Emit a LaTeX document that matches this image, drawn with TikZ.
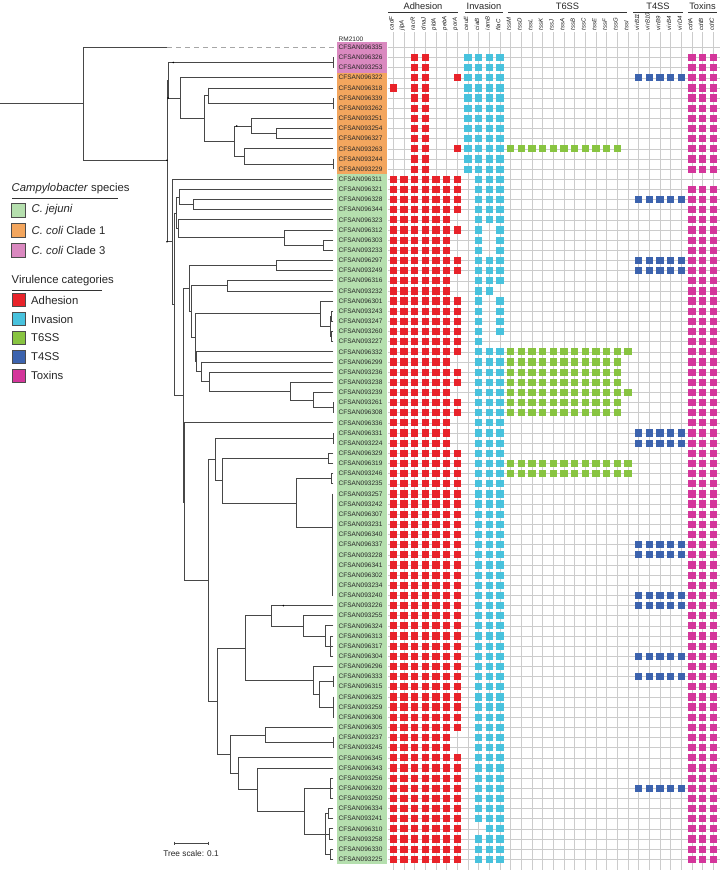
\documentclass[tikz,border=0pt]{standalone}
\usepackage{fontspec}
\setmainfont{Liberation Sans}
\definecolor{cA}{HTML}{E8232A}
\definecolor{cI}{HTML}{48C2DD}
\definecolor{cS}{HTML}{88C441}
\definecolor{cF}{HTML}{3C63AE}
\definecolor{cX}{HTML}{D4369B}
\definecolor{sJ}{HTML}{B5DFAE}
\definecolor{sO}{HTML}{F3A65E}
\definecolor{sP}{HTML}{DA89C0}
\newcommand\vsq[3]{\fill[#1] ({393.3+#3*10.67-3.6},{47.3+(#2-1)*10.15-3.6}) rectangle ++(7.2,7.2);}
\newcommand\adh[2]{\foreach \k in {#2}{\vsq{cA}{#1}{\k}}}
\newcommand\inv[2]{\foreach \k in {#2}{\vsq{cI}{#1}{\k}}}
\newcommand\tsix[2]{\foreach \k in {11,...,#2}{\vsq{cS}{#1}{\k}}}
\newcommand\tfour[1]{\foreach \k in {23,...,27}{\vsq{cF}{#1}{\k}}}
\newcommand\tox[1]{\foreach \k in {28,29,30}{\vsq{cX}{#1}{\k}}}
\newcommand\stdrow[1]{\adh{#1}{0,...,6}\inv{#1}{8,9,10}\tox{#1}}
\newcommand\sixrow[1]{\adh{#1}{0,...,5}\inv{#1}{8,9,10}\tox{#1}}
\newcommand\colirow[1]{\adh{#1}{2,3}\inv{#1}{7,...,10}\tox{#1}}
\newcommand\hb[3]{\draw[tr] (#1,#3) -- (#2,#3);}
\newcommand\vb[3]{\draw[tr] (#1,#2) -- (#1,#3);}
\newcommand\lf[2]{\draw[tr] (#1,{47.3+(#2-1)*10.15}) -- (333,{47.3+(#2-1)*10.15});}
\newcommand\ndot[2]{\fill[black] (#1,#2) circle (0.9);}
\begin{document}
\begin{tikzpicture}[x=1pt,y=-1pt,
  tr/.style={draw=black!72,line width=0.75pt,line cap=rect},
  grd/.style={draw=black!20,line width=0.5pt},
  lbl/.style={font=\fontsize{6.5}{7}\selectfont,inner sep=0pt,anchor=west,text=black!85},
  gene/.style={font=\fontsize{6}{7}\selectfont\itshape,inner sep=0pt,anchor=west,rotate=90,text=black!90},
  cat/.style={font=\fontsize{9.3}{10}\selectfont,inner sep=0pt,text=black!85},
  catline/.style={draw=black!80,line width=0.6pt},
  leg/.style={font=\fontsize{11.3}{12}\selectfont,inner sep=0pt,anchor=west,text=black!85},
  sw/.style={draw=black!70,line width=0.6pt}]
\useasboundingbox (0,0) rectangle (724,870);
\fill[white] (0,0) rectangle (724,870);
% ---------- label backgrounds
\fill[sP] (337,42.2) rectangle (387,72.7);
\fill[sO] (337,72.7) rectangle (387,174.2);
\fill[sJ] (337,174.2) rectangle (387,864.4);
% ---------- grid
\foreach \k in {0,...,30} \draw[grd] ({393.3+\k*10.67},32) -- ({393.3+\k*10.67},870);
\foreach \r in {1,...,81} \draw[grd] (388,{47.3+(\r-1)*10.15}) -- (720,{47.3+(\r-1)*10.15});
% ---------- header
\node[cat] (hA) at (423,6) {Adhesion};
\node[cat] (hI) at (484,6) {Invasion};
\node[cat] (hS) at (567.5,6) {T6SS};
\node[cat] (hF) at (658,6) {T4SS};
\node[cat] (hX) at (702.5,6) {Toxins};
\draw[catline] (388,12.7) -- (458,12.7);
\draw[catline] (465,12.7) -- (503,12.7);
\draw[catline] (508,12.7) -- (627,12.7);
\draw[catline] (633,12.7) -- (683,12.7);
\draw[catline] (688,12.7) -- (717,12.7);
\foreach \g [count=\i from 0] in {cadF,jlpA,racR,dnaJ,pldA,pebA,porA,ceuE,ciaB,iamB,flaC,tssM,tssD,tssL,tssK,tssJ,tssA,tssB,tssC,tssE,tssF,tssG,tssI,virB11,virB10,virB9,virB4,virD4,cdtA,cdtB,cdtC}
  \node[gene] (G\i) at ({393.3+\i*10.67-1.8},30.5) {\g};
% ---------- row labels
\node[lbl] (RM) at (338.5,39.5) {RM2100};
\foreach \lab [count=\i] in {CFSAN096335,CFSAN096326,CFSAN093253,CFSAN096322,CFSAN096318,CFSAN096339,CFSAN093262,CFSAN093251,CFSAN093254,CFSAN096327,CFSAN093263,CFSAN093244,CFSAN093229,CFSAN096311,CFSAN096321,CFSAN096328,CFSAN096344,CFSAN096323,CFSAN096312,CFSAN096303,CFSAN093233,CFSAN096297,CFSAN093249,CFSAN096316,CFSAN093232,CFSAN096301,CFSAN093243,CFSAN093247,CFSAN093260,CFSAN093227,CFSAN096332,CFSAN096299,CFSAN093236,CFSAN093238,CFSAN093239,CFSAN093261,CFSAN096308,CFSAN096336,CFSAN096331,CFSAN093224,CFSAN096329,CFSAN096319,CFSAN093246,CFSAN093235,CFSAN093257,CFSAN093242,CFSAN096307,CFSAN093231,CFSAN096340,CFSAN096337,CFSAN093228,CFSAN096341,CFSAN096302,CFSAN093234,CFSAN093240,CFSAN093226,CFSAN093255,CFSAN096324,CFSAN096313,CFSAN096317,CFSAN096304,CFSAN096296,CFSAN096333,CFSAN096315,CFSAN096325,CFSAN093259,CFSAN096306,CFSAN096305,CFSAN093237,CFSAN093245,CFSAN096345,CFSAN096343,CFSAN093256,CFSAN096320,CFSAN093250,CFSAN096334,CFSAN093241,CFSAN096310,CFSAN093258,CFSAN096330,CFSAN093225}
  \node[lbl] (L\i) at (338.5,{47.3+(\i-1)*10.15}) {\lab};
% ---------- presence squares
\colirow{2}\colirow{3}
\adh{4}{2,3,6}\inv{4}{7,...,10}\tfour{4}\tox{4}
\adh{5}{0,2,3}\inv{5}{7,...,10}\tox{5}
\colirow{6}\colirow{7}\colirow{8}\colirow{9}\colirow{10}
\adh{11}{2,3,6}\inv{11}{7,...,10}\tsix{11}{21}\tox{11}
\colirow{12}\colirow{13}
\adh{14}{0,...,6}\inv{14}{8,9,10}
\stdrow{15}
\stdrow{16}\tfour{16}
\stdrow{17}
\sixrow{18}
\adh{19}{0,...,6}\inv{19}{8,10}\tox{19}
\adh{20}{0,...,5}\inv{20}{8,10}\tox{20}
\adh{21}{0,...,5}\inv{21}{8,10}\tox{21}
\stdrow{22}\tfour{22}
\stdrow{23}\tfour{23}
\sixrow{24}
\adh{25}{0,...,5}\inv{25}{8,9}\tox{25}
\adh{26}{0,...,6}\inv{26}{8,10}\tox{26}
\adh{27}{0,...,6}\inv{27}{8,10}\tox{27}
\adh{28}{0,...,6}\inv{28}{8,10}\tox{28}
\adh{29}{0,...,6}\inv{29}{8,10}\tox{29}
\adh{30}{0,...,6}\inv{30}{8}\tox{30}
\stdrow{31}\tsix{31}{22}
\sixrow{32}\tsix{32}{21}
\stdrow{33}\tsix{33}{21}
\stdrow{34}\tsix{34}{21}
\sixrow{35}\tsix{35}{22}
\stdrow{36}\tsix{36}{21}
\stdrow{37}\tsix{37}{21}
\sixrow{38}
\sixrow{39}\tfour{39}
\sixrow{40}\tfour{40}
\stdrow{41}
\stdrow{42}\tsix{42}{22}
\stdrow{43}\tsix{43}{22}
\foreach \r in {44,...,68} {\stdrow{\r}}
\tfour{50}\tfour{51}\tfour{55}\tfour{56}\tfour{61}\tfour{63}
\sixrow{69}\sixrow{70}
\foreach \r in {71,...,77} {\stdrow{\r}}
\tfour{74}
\adh{78}{0,...,6}\inv{78}{9,10}\tox{78}
\stdrow{79}\stdrow{80}\stdrow{81}
% ---------- tree
\draw[tr] (0,103.75) -- (83,103.75);
\vb{83}{47.3}{160.2}
\hb{83}{167}{47.3}
\draw[draw=black!35,line width=0.75pt,dash pattern=on 5pt off 4pt] (167,47.3) -- (336,47.3);
\hb{83}{167}{160.2}
\vb{167}{80.3}{241.7}
\vb{168}{62.5}{98.1}
\hb{168}{333}{62.5}\vb{333}{57.45}{67.6}
\hb{168}{180}{98.1}\vb{180}{77.75}{118.4}\lf{180}{4}
\hb{180}{204.3}{118.4}\vb{204.3}{95.5}{141.2}
\hb{204.3}{208.3}{95.5}\vb{208.3}{87.9}{103.1}\lf{208.3}{5}
\hb{208.3}{333}{103.1}\vb{333}{98.05}{108.2}
\hb{204.3}{234.3}{141.2}\vb{234.3}{126}{156.4}
\hb{234.3}{251}{126}\vb{251}{118.35}{133.6}\lf{251}{8}
\hb{251}{276.7}{133.6}\vb{276.7}{128.5}{138.65}\lf{276.7}{9}\lf{276.7}{10}
\hb{234.3}{244.3}{156.4}\vb{244.3}{148.8}{164}\lf{244.3}{11}
\hb{244.3}{333}{164}\vb{333}{158.95}{169.1}
% jejuni
\hb{167}{172.7}{241.7}\vb{172.7}{179.25}{304.1}\lf{172.7}{14}
\hb{172.7}{174.5}{304.1}\vb{174.5}{212.9}{395.3}
\hb{174.5}{176}{212.9}\vb{176}{197}{228.7}
\hb{176}{179.3}{197}\vb{179.3}{189.4}{204.6}\lf{179.3}{15}
\hb{179.3}{193.3}{204.6}\vb{193.3}{199.55}{209.7}\lf{193.3}{16}\lf{193.3}{17}
\hb{176}{178.3}{228.7}\vb{178.3}{219.85}{237.6}\lf{178.3}{18}
\hb{178.3}{284.3}{237.6}\vb{284.3}{230}{245.2}\lf{284.3}{19}
\hb{284.3}{323.3}{245.2}\vb{323.3}{240.15}{250.3}\lf{323.3}{20}\lf{323.3}{21}
\hb{174.5}{183}{395.3}\vb{183}{288.6}{502}
\hb{183}{189.3}{288.6}\vb{189.3}{265.5}{311.8}
\hb{189.3}{276.7}{265.5}\vb{276.7}{260.45}{270.6}\lf{276.7}{22}\lf{276.7}{23}
\hb{189.3}{191.7}{311.8}\vb{191.7}{285.8}{337.8}
\hb{191.7}{227.7}{285.8}\vb{227.7}{280.75}{290.9}\lf{227.7}{24}\lf{227.7}{25}
\hb{191.7}{195}{337.8}\vb{195}{313.7}{361.8}
\hb{195}{320}{313.7}\vb{320}{301.05}{326.4}\lf{320}{26}
\hb{320}{330}{326.4}\vb{330}{316.3}{336.6}
\hb{330}{331.7}{316.3}\vb{331.7}{311.2}{321.35}\lf{331.7}{27}\lf{331.7}{28}
\hb{330}{331.7}{336.6}\vb{331.7}{331.5}{341.65}\lf{331.7}{29}\lf{331.7}{30}
\hb{195}{196.7}{361.8}\vb{196.7}{351.8}{371.8}\lf{196.7}{31}
\hb{196.7}{201.7}{371.8}\vb{201.7}{361.95}{381.6}\lf{201.7}{32}
\hb{201.7}{209.3}{381.6}\vb{209.3}{372.1}{391.1}\lf{209.3}{33}
\hb{209.3}{290}{391.1}\vb{290}{382.25}{400}\lf{290}{34}
\hb{290}{313.3}{400}\vb{313.3}{392.4}{407.6}\lf{313.3}{35}
\hb{313.3}{333}{407.6}\vb{333}{402.55}{412.7}
\hb{183}{184.3}{502}\vb{184.3}{422.9}{580.3}\lf{184.3}{38}
\hb{184.3}{208.3}{580.3}\vb{208.3}{459.4}{701.2}
\hb{208.3}{215}{459.4}\vb{215}{438.1}{480.6}
\hb{215}{333}{438.1}\vb{333}{433}{443.2}
\hb{215}{222.7}{480.6}\vb{222.7}{458.4}{502.9}
\hb{222.7}{328}{458.4}\vb{328}{453.3}{463.5}\lf{328}{41}\lf{328}{42}
\hb{222.7}{296.7}{502.9}\vb{296.7}{478.7}{527}
\hb{296.7}{331}{478.7}\vb{331}{473.6}{483.8}\lf{331}{43}\lf{331}{44}
\hb{296.7}{332}{527}\vb{332}{493.9}{595.4}
\hb{208.3}{217.7}{701.2}\vb{217.7}{648.1}{754.3}
\hb{217.7}{245}{648.1}\vb{245}{615.7}{680.5}
\hb{245}{271.7}{615.7}\vb{271.7}{605.6}{625.9}\lf{271.7}{56}
\hb{271.7}{303.3}{625.9}\vb{303.3}{615.7}{636}\lf{303.3}{57}
\hb{303.3}{325}{636}\vb{325}{625.9}{646.2}\lf{325}{58}
\hb{325}{330}{646.2}\vb{330}{636}{656.3}\lf{330}{59}\lf{330}{60}\lf{330}{61}
\hb{245}{313.3}{680.5}\vb{313.3}{666.5}{694.4}\lf{313.3}{62}
\hb{313.3}{319}{694.4}\vb{319}{681.7}{707.1}
\hb{319}{333}{681.7}\vb{333}{676.6}{686.8}
\hb{319}{333}{707.1}\vb{333}{696.9}{717.2}
\hb{217.7}{230}{754.3}\vb{230}{735}{773.7}
\hb{230}{265}{735}\vb{265}{727.4}{742.6}\lf{265}{68}
\hb{265}{333}{742.6}\vb{333}{737.5}{747.7}
\hb{230}{238.3}{773.7}\vb{238.3}{757.8}{789.5}\lf{238.3}{71}
\hb{238.3}{257.7}{789.5}\vb{257.7}{768}{811}\lf{257.7}{72}
\hb{257.7}{304.3}{811}\vb{304.3}{788.3}{834}
\hb{304.3}{330}{788.3}\vb{330}{778.1}{798.4}\lf{330}{73}\lf{330}{74}\lf{330}{75}
\hb{304.3}{325}{834}\vb{325}{813.65}{854.25}
\hb{325}{328}{813.65}\vb{328}{808.6}{818.7}\lf{328}{76}\lf{328}{77}
\hb{325}{329}{833.95}\vb{329}{828.9}{839}\lf{329}{78}\lf{329}{79}
\hb{325}{330}{854.25}\vb{330}{849.2}{859.3}\lf{330}{80}\lf{330}{81}
% node markers
\ndot{173.3}{62.5}\ndot{168}{98.1}\ndot{236.7}{126}\ndot{167}{160.2}\ndot{167}{241.7}\ndot{283.3}{605.6}
% scale bar
\draw[tr] (174,843.3) -- (208.3,843.3);
\draw[tr,line width=0.5pt] (174,841.8) -- (174,844.8) (208.3,841.8) -- (208.3,844.8);
\node[font=\fontsize{8.3}{9}\selectfont,inner sep=0pt,text=black!85] (ts) at (191,853.5) {Tree scale: 0.1};
% ---------- legend
\node[leg] (lt1) at (11.5,188.5) {\textit{Campylobacter} species};
\draw[black!80,line width=0.6pt] (12,198.3) -- (118,198.3);
\draw[sw,fill=sJ] (11,203) rectangle (25,217);
\draw[sw,fill=sO] (11,223) rectangle (25,237);
\draw[sw,fill=sP] (11,243) rectangle (25,257);
\node[leg] (l1) at (31.5,210) {\textit{C. jejuni}};
\node[leg] (l2) at (31.5,230) {\textit{C. coli} Clade 1};
\node[leg] (l3) at (31.5,250) {\textit{C. coli} Clade 3};
\node[leg] (lt2) at (11.5,281) {Virulence categories};
\draw[black!80,line width=0.6pt] (12,290.3) -- (102,290.3);
\foreach \cc/\tt/\yy in {cA/Adhesion/300,cI/Invasion/319,cS/T6SS/337.7,cF/T4SS/356.7,cX/Toxins/375.3}{
  \draw[sw,fill=\cc] (12,{\yy-6.5}) rectangle (25,{\yy+6.5});
  \node[leg] at (31,\yy) {\tt};
}
\end{tikzpicture}
\end{document}
